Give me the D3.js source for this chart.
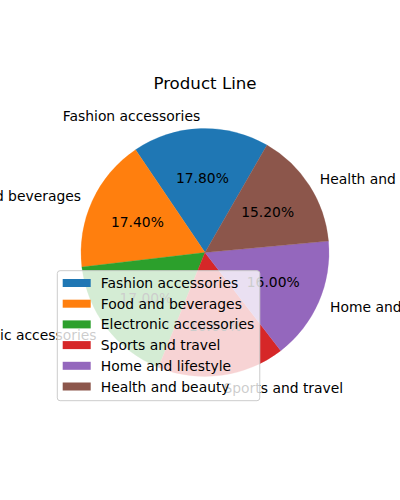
<!DOCTYPE html>
<html>
<head>
<meta charset="utf-8">
<script src="https://cdn.jsdelivr.net/npm/d3@7"></script>
<style>
html,body{margin:0;padding:0;background:#fff;}
svg{display:block;font-family:"DejaVu Sans",sans-serif;}
</style>
</head>
<body>
<svg id="chart" width="400" height="500"></svg>
<script>
const categories = ["Fashion accessories","Food and beverages","Electronic accessories","Sports and travel","Home and lifestyle","Health and beauty"];
const counts = [178, 174, 170, 166, 160, 152];
const colors = ["#1f77b4","#ff7f0e","#2ca02c","#d62728","#9467bd","#8c564b"];
const title = "Product Line";

const W = 400, H = 500;
const cx = 205, cy = 252.5, R = 124;
const fs = 13.89;

const svg = d3.select("#chart");
const data = categories.map((c,i)=>({cat:c, value:counts[i], color:colors[i]}));
const total = d3.sum(counts);

// matplotlib startangle=60 (CCW from east) -> d3 angle (CW from north) = 30deg, going CCW
const start = (90-60)*Math.PI/180;
const pie = d3.pie().sort(null).value(d=>d.value).startAngle(start).endAngle(start - 2*Math.PI);
const arcs = pie(data);
const arc = d3.arc().innerRadius(0).outerRadius(R);

const g = svg.append("g").attr("transform",`translate(${cx},${cy})`);
g.selectAll("path.slice").data(arcs).join("path")
  .attr("class","slice")
  .attr("d",arc)
  .attr("fill",d=>d.data.color)
  .attr("stroke",d=>d.data.color).attr("stroke-width",0.3);

const mid = d=>(d.startAngle+d.endAngle)/2;
// category labels
g.selectAll("text.lab").data(arcs).join("text")
  .attr("class","lab")
  .attr("x",d=>1.1*R*Math.sin(mid(d)))
  .attr("y",d=>-1.1*R*Math.cos(mid(d)))
  .attr("text-anchor",d=>Math.sin(mid(d))>0?"start":"end")
  .attr("dominant-baseline","central")
  .attr("font-size",fs).attr("fill","#000")
  .text(d=>d.data.cat);
// percent labels
const pf = d3.format(".2f");
g.selectAll("text.pct").data(arcs).join("text")
  .attr("class","pct")
  .attr("x",d=>0.6*R*Math.sin(mid(d)))
  .attr("y",d=>-0.6*R*Math.cos(mid(d)))
  .attr("text-anchor","middle")
  .attr("dominant-baseline","central")
  .attr("font-size",fs).attr("fill","#000")
  .text(d=>pf(d.data.value/total*100)+"%");

// title
svg.append("text").attr("x",cx).attr("y",89.3)
  .attr("text-anchor","middle").attr("font-size",16.67).attr("fill","#000")
  .text(title);

// legend (lower left)
const lx = 57.3, ly = 270.7, rowH = 20.7;
const lg = svg.append("g");
const frame = lg.append("rect").attr("x",lx).attr("y",ly).attr("height",130)
  .attr("rx",2.8).attr("ry",2.8)
  .attr("fill","#fff").attr("fill-opacity",0.8)
  .attr("stroke","#cccccc").attr("stroke-width",1);
let maxW = 0;
data.forEach((d,i)=>{
  const yc = ly + 12.3 + i*rowH;
  lg.append("rect").attr("x",lx+5.4).attr("y",yc-4).attr("width",28).attr("height",8)
    .attr("fill",d.color);
  const t = lg.append("text").attr("x",lx+43.5).attr("y",yc)
    .attr("dominant-baseline","central").attr("font-size",fs).attr("fill","#000")
    .text(d.cat);
  maxW = Math.max(maxW, t.node().getComputedTextLength());
});
frame.attr("width", 43.5 + maxW + 5.6);
</script>
</body>
</html>
